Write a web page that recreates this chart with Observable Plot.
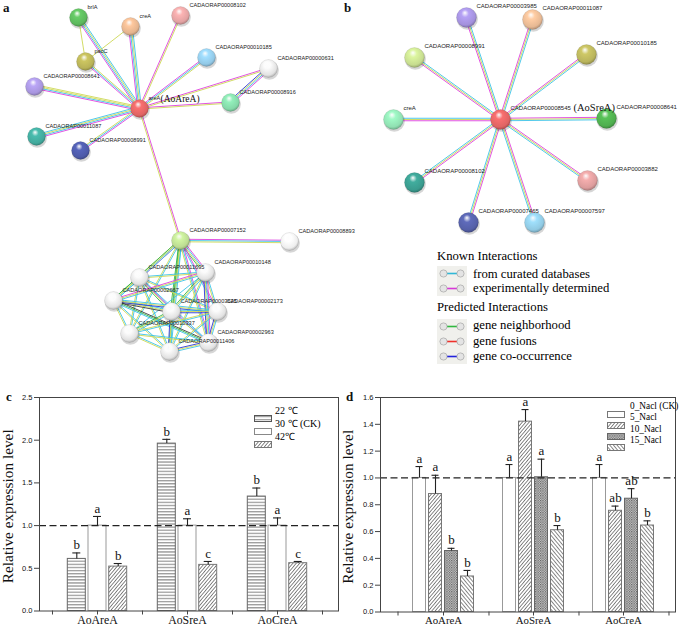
<!DOCTYPE html>
<html><head><meta charset="utf-8">
<script src="https://cdn.jsdelivr.net/npm/d3@7"></script>
<script src="https://cdn.jsdelivr.net/npm/@observablehq/plot@0.6"></script>
<style>
body{margin:0;background:#fff;}
#fig{position:relative;width:685px;height:628px;overflow:hidden;font-family:"Liberation Serif","Times New Roman",serif;color:#111;-webkit-font-smoothing:antialiased;}
.abs{position:absolute;}
.abs svg{overflow:visible;}
.plab{position:absolute;font-weight:bold;font-size:13px;line-height:13px;}
.lg{position:absolute;white-space:nowrap;line-height:13px;color:#000;}
</style></head><body><div id="fig"></div>
<script>
// ---------- Panel a: network around areA ----------
const aNames = ["areA","brlA","creA","CADAORAP00008102","CADAORAP00010185","CADAORAP00000631","CADAORAP00008916","pacC","CADAORAP00008641","CADAORAP00011087","CADAORAP00008991","CADAORAP00007152","CADAORAP00008893","CADAORAP00011695","CADAORAP00010148","CADAORAP00002667","CADAORAP00003625","CADAORAP00002173","CADAORAP00010337","CADAORAP00002963","CADAORAP00011406"];
const aX = [139,78,130,180,206,268,230,85,34,36,80,180,289,139,205,113,171,217,129,208,169];
const aY = [108,17,26,15,57,68,102,61,86,136,150,240,241,277,272,300,311,311,333,342,351];
const aColors = ["#e06464","#5db85d","#e4b48e","#e2a2a2","#92c8e6","#e2e2e2","#84d8a8","#b8b257","#a795dd","#42a99c","#4d5aa8","#bcdc92","#eeeeee","#e2e2e2","#e2e2e2","#e2e2e2","#e2e2e2","#e2e2e2","#e2e2e2","#e2e2e2","#e2e2e2"];
const aEdges = [
  ["areA","brlA","mcyc"],["areA","creA","mcyc"],["areA","CADAORAP00008102","my"],["areA","CADAORAP00010185","mcy"],
  ["areA","CADAORAP00000631","my"],["areA","CADAORAP00008916","my"],["areA","pacC","mcy"],["areA","CADAORAP00008641","mcyy"],
  ["areA","CADAORAP00011087","mcyc"],["areA","CADAORAP00008991","mcy"],["areA","CADAORAP00007152","my"],
  ["pacC","brlA","y"],["pacC","creA","y"],["CADAORAP00000631","CADAORAP00008916","mcyb"],
  ["CADAORAP00007152","CADAORAP00008893","mcy"],
  ["CADAORAP00007152","CADAORAP00011695","mcy"],["CADAORAP00007152","CADAORAP00010148","mcyg"],["CADAORAP00007152","CADAORAP00002667","cyg"],
  ["CADAORAP00007152","CADAORAP00003625","cyg"],["CADAORAP00007152","CADAORAP00002173","mc"],["CADAORAP00007152","CADAORAP00010337","cy"],
  ["CADAORAP00007152","CADAORAP00002963","mcy"],["CADAORAP00007152","CADAORAP00011406","cyg"],
  ["CADAORAP00011695","CADAORAP00010148","cy"],["CADAORAP00011695","CADAORAP00002667","cyg"],["CADAORAP00011695","CADAORAP00003625","cyg"],
  ["CADAORAP00011695","CADAORAP00002173","cy"],["CADAORAP00011695","CADAORAP00010337","cy"],["CADAORAP00011695","CADAORAP00002963","cm"],
  ["CADAORAP00011695","CADAORAP00011406","cy"],["CADAORAP00010148","CADAORAP00002667","cym"],["CADAORAP00010148","CADAORAP00003625","cyg"],
  ["CADAORAP00010148","CADAORAP00002173","cy"],["CADAORAP00010148","CADAORAP00010337","c"],["CADAORAP00010148","CADAORAP00002963","mcyb"],
  ["CADAORAP00010148","CADAORAP00011406","cy"],["CADAORAP00002667","CADAORAP00003625","cyk"],["CADAORAP00002667","CADAORAP00002173","cyb"],
  ["CADAORAP00002667","CADAORAP00010337","cy"],["CADAORAP00002667","CADAORAP00002963","kgc"],["CADAORAP00002667","CADAORAP00011406","cy"],
  ["CADAORAP00003625","CADAORAP00002173","cyb"],["CADAORAP00003625","CADAORAP00010337","cyg"],["CADAORAP00003625","CADAORAP00002963","cy"],
  ["CADAORAP00003625","CADAORAP00011406","cyb"],["CADAORAP00002173","CADAORAP00010337","cy"],["CADAORAP00002173","CADAORAP00002963","cyb"],
  ["CADAORAP00002173","CADAORAP00011406","cy"],["CADAORAP00010337","CADAORAP00002963","cy"],["CADAORAP00010337","CADAORAP00011406","cy"],
  ["CADAORAP00002963","CADAORAP00011406","cyb"]
];
const aHubTag = "(AoAreA)";

// ---------- Panel b: network around CADAORAP00008545 ----------
const bNames = ["CADAORAP00008545","CADAORAP00003985","CADAORAP00011087","CADAORAP00008991","CADAORAP00010185","creA","CADAORAP00008641","CADAORAP00008102","CADAORAP00003882","CADAORAP00007465","CADAORAP00007597"];
const bX = [500,466,532,414,586,393,606,414,587,468,534];
const bY = [119,17,19,57,54,119,118,182,180,222,222];
const bColors = ["#e06464","#a391dc","#e6b893","#c6dc8f","#b9b45c","#90e0b2","#4fae4f","#3a9b8e","#dc9c9c","#5560a8","#90c9e2"];
const bEdges = bNames.slice(1).map(n => ["CADAORAP00008545", n, "myc"]);
const bHubTag = "(AoSreA)";

const edgeColors = {m:"#de3fde", c:"#3cc3e8", y:"#cdd855", g:"#39b54a", b:"#2a35d6", k:"#3d3d3d"};

// ---------- Panel c: temperature ----------
const genes = ["AoAreA","AoSreA","AoCreA"];
const tempLevels = ["22 \u2103","30 \u2103 (CK)","42\u2103"];
const temp22 = [0.61,1.96,1.34], temp22Top = [0.68,2.01,1.44], temp22Sig = ["b","b","b"];
const temp30 = [1.00,1.00,1.00], temp30Top = [1.107,1.08,1.09], temp30Sig = ["a","a","a"];
const temp42 = [0.52,0.54,0.56], temp42Top = [0.556,0.58,0.58], temp42Sig = ["b","c","c"];
const tempTicks = [0,0.5,1.0,1.5,2.0,2.5];

// ---------- Panel d: NaCl ----------
const saltLevels = ["0_Nacl (CK)","5_Nacl","10_Nacl","15_Nacl"];
const salt0 = [1.00,1.00,1.00], salt0Top = [1.085,1.10,1.10], salt0Sig = ["a","a","a"];
const salt5 = [0.88,1.42,0.755], salt5Top = [1.02,1.51,0.79], salt5Sig = ["a","a","ab"];
const salt10 = [0.455,1.005,0.845], salt10Top = [0.475,1.14,0.92], salt10Sig = ["b","a","ab"];
const salt15 = [0.265,0.61,0.645], salt15Top = [0.31,0.645,0.68], salt15Sig = ["b","b","b"];
const saltTicks = [0,0.2,0.4,0.6,0.8,1.0,1.2,1.4,1.6];

const yTitle = "Relative expression level";
const netLegendKnown = [["from curated databases","c"],["experimentally determined","m"]];
const netLegendPred = [["gene neighborhood","g"],["gene fusions","r"],["gene co-occurrence","b"]];
const legendLineColors = {c:"#2fb8d8", m:"#d838d8", g:"#2fb83f", r:"#f0302a", b:"#2222dd"};

// ================= helpers =================
const fig = document.getElementById("fig");
function place(el, left, top){ const d=document.createElement("div"); d.className="abs"; d.style.left=left+"px"; d.style.top=top+"px"; d.appendChild(el); fig.appendChild(d); return d; }

function buildLines(names, xs, ys, edges){
  const out=[];
  for (const [s,t,codes] of edges){
    const i=names.indexOf(s), j=names.indexOf(t);
    const dx=xs[j]-xs[i], dy=ys[j]-ys[i], L=Math.hypot(dx,dy);
    const nx=-dy/L, ny=dx/L;
    codes.split("").forEach((c,k)=>{
      const o=(k-(codes.length-1)/2)*1.25;
      out.push({x1:xs[i]+nx*o, y1:ys[i]+ny*o, x2:xs[j]+nx*o, y2:ys[j]+ny*o, col:edgeColors[c]});
    });
  }
  return out;
}
function addGradients(svg, prefix, colors){
  const defs = d3.select(svg).insert("defs", ":first-child");
  colors.forEach((c,i)=>{
    const g = defs.append("radialGradient").attr("id", prefix+i).attr("cx","45%").attr("cy","40%").attr("r","62%").attr("fx","42%").attr("fy","26%");
    g.append("stop").attr("offset","0%").attr("stop-color","#ffffff").attr("stop-opacity",0.95);
    g.append("stop").attr("offset","30%").attr("stop-color", d3.color(c).brighter(0.3).formatHex());
    g.append("stop").attr("offset","80%").attr("stop-color", c);
    g.append("stop").attr("offset","100%").attr("stop-color", d3.color(c).darker(0.8).formatHex());
  });
}
function network({names, xs, ys, colors, edges, x0, w, h, r, fs, prefix, hubTag, tagDx, tagDy, tagFs}){
  const nodes = names.map((n,i)=>({name:n, x:xs[i], y:ys[i], fill:`url(#${prefix}${i})`}));
  const lines = buildLines(names, xs, ys, edges);
  const svg = Plot.plot({
    width:w, height:h, margin:0,
    x:{domain:[x0, x0+w], axis:null}, y:{domain:[h,0], axis:null},
    color:{type:"identity"},
    style:{overflow:"visible", background:"transparent"},
    marks:[
      Plot.link(lines, {x1:"x1", y1:"y1", x2:"x2", y2:"y2", stroke:"col", strokeWidth:0.9}),
      Plot.dot(nodes, {x:"x", y:"y", r:r+0.6, fill:"#000", fillOpacity:0.16, dx:0.8, dy:1.6}),
      Plot.dot(nodes, {x:"x", y:"y", r:r, fill:"fill", stroke:"#00000022", strokeWidth:0.6}),
      Plot.text(nodes, {x:"x", y:"y", text:"name", dx:r, dy:-r-1, textAnchor:"start", fontSize:fs, fontFamily:"Liberation Sans, Arial, sans-serif", fill:"#222"}),
      Plot.text([nodes[0]], {x:"x", y:"y", text:()=>hubTag, dx:tagDx, dy:tagDy, textAnchor:"start", fontSize:tagFs, fontFamily:"Liberation Serif, serif", fill:"#111"})
    ]
  });
  addGradients(svg, prefix, colors);
  return svg;
}

// ---- a
place(network({names:aNames, xs:aX, ys:aY, colors:aColors, edges:aEdges, x0:0, w:340, h:370, r:9, fs:5.6, prefix:"ga", hubTag:aHubTag, tagDx:21, tagDy:-10, tagFs:9.5}), 0, 0);
// ---- b
place(network({names:bNames, xs:bX, ys:bY, colors:bColors, edges:bEdges, x0:340, w:345, h:240, r:10, fs:6, prefix:"gb", hubTag:bHubTag, tagDx:73, tagDy:-12, tagFs:10.5}), 340, 0);

// ---- network legend (HTML)
function iconBox(left, top, rows){
  const box=document.createElement("div");
  box.className="abs"; box.style.left=left+"px"; box.style.top=top+"px"; box.style.width="30px"; box.style.height=(rows.length*15)+"px"; box.style.background="#f0f0ec";
  let s=`<svg width="30" height="${rows.length*15}">`;
  rows.forEach((r,i)=>{ const cy=7.5+i*15; s+=`<line x1="9" x2="21" y1="${cy}" y2="${cy}" stroke="${legendLineColors[r[1]]}" stroke-width="1.6"/><circle cx="6.5" cy="${cy}" r="3.6" fill="#e4e4e4" stroke="#999" stroke-width="0.6"/><circle cx="23.5" cy="${cy}" r="3.6" fill="#e4e4e4" stroke="#999" stroke-width="0.6"/>`; });
  s+="</svg>"; box.innerHTML=s; fig.appendChild(box);
}
function lgText(txt, left, cy, fs){ const d=document.createElement("div"); d.className="lg"; d.style.left=left+"px"; d.style.top=(cy-7)+"px"; d.style.fontSize=fs+"px"; d.textContent=txt; fig.appendChild(d); }
lgText("Known Interactions", 437, 257, 12.7);
iconBox(437, 266, netLegendKnown);
netLegendKnown.forEach((r,i)=>lgText(r[0], 473, 275+i*14, 12.7));
lgText("Predicted Interactions", 437, 308, 12.7);
iconBox(437, 319, netLegendPred);
netLegendPred.forEach((r,i)=>lgText(r[0], 473, 326+i*15.5, 12.7));

// ---- patterns for bars
function addPatterns(svg){
  const defs = d3.select(svg).insert("defs", ":first-child");
  defs.html(`
   <pattern id="pH" width="4" height="3.1" patternUnits="userSpaceOnUse"><rect width="4" height="3.1" fill="#fff"/><line x1="0" x2="4" y1="1.5" y2="1.5" stroke="#333" stroke-width="0.75"/></pattern>
   <pattern id="pD1" width="2.6" height="4" patternUnits="userSpaceOnUse" patternTransform="rotate(40)"><rect width="2.6" height="4" fill="#fff"/><line x1="1.3" x2="1.3" y1="0" y2="4" stroke="#777" stroke-width="0.9"/></pattern>
   <pattern id="pD2" width="2.8" height="4" patternUnits="userSpaceOnUse" patternTransform="rotate(-40)"><rect width="2.8" height="4" fill="#fff"/><line x1="1.4" x2="1.4" y1="0" y2="4" stroke="#777" stroke-width="0.9"/></pattern>
   <pattern id="pX" width="2.4" height="2.4" patternUnits="userSpaceOnUse"><rect width="2.4" height="2.4" fill="#d0d0d0"/><rect width="1.2" height="1.2" fill="#555"/><rect x="1.2" y="1.2" width="1.2" height="1.2" fill="#777"/></pattern>`);
}

function barPanel({levels, series, tops, sigs, fills, strokes, offsets, barW, yDomain, yTicks, w, h, ml, mr, mt, mb, po, align, catFs, catPad, titleDx}){
  const step = (w-ml-mr)/(genes.length + 2*po);
  const inset = (step - barW)/2;
  const tickLen = 4*(yDomain[1]-yDomain[0])/(h-mt-mb);
  const marks = [];
  levels.forEach((lv,k)=>{
    const rows = genes.map((g,i)=>({gene:g, level:lv, value:series[k][i], top:tops[k][i], sig:sigs[k][i]}));
    marks.push(Plot.barY(rows, {x:"gene", y:"value", dx:offsets[k], insetLeft:inset, insetRight:inset, fill:fills[k], stroke:strokes[k], strokeWidth:1}));
  });
  marks.push(Plot.ruleY([1], {stroke:"#222", strokeWidth:1.2, strokeDasharray:"7,3.5"}));
  levels.forEach((lv,k)=>{
    const rows = genes.map((g,i)=>({gene:g, value:series[k][i], top:tops[k][i], sig:sigs[k][i]}));
    marks.push(Plot.ruleX(rows, {x:"gene", y1:"value", y2:"top", dx:offsets[k], stroke:"#222", strokeWidth:1.1}));
    marks.push(Plot.tickY(rows, {x:"gene", y:"top", dx:offsets[k], insetLeft:step/2-4, insetRight:step/2-4, stroke:"#222", strokeWidth:1.1}));
    marks.push(Plot.text(rows, {x:"gene", y:"top", text:"sig", dx:offsets[k], dy:-8, fontSize:13, fontFamily:"Liberation Serif, serif", fill:"#111"}));
  });
  marks.push(Plot.frame({stroke:"#444", strokeWidth:1}));
  marks.push(Plot.axisY({ticks:yTicks, tickFormat:d3.format(".1f"), tickSize:5, tickPadding:2, fontSize:7.5, fontFamily:"Liberation Sans, Arial, sans-serif", label:null, stroke:"#444"}));
  marks.push(Plot.axisX({tickSize:4, tickPadding:catPad, fontSize:catFs, fontFamily:"Liberation Serif, serif", label:null, stroke:"#444"}));
  marks.push(Plot.ruleX(genes, {x:d=>d, dx:step/2, y1:0, y2:-tickLen, stroke:"#444"}));
  marks.push(Plot.ruleX([genes[0]], {x:d=>d, dx:-step/2, y1:0, y2:-tickLen, stroke:"#444"}));
  marks.push(Plot.text([yTitle], {frameAnchor:"left", textAnchor:"middle", text:d=>d, rotate:-90, dx:titleDx, dy:2, fontSize:15.3, fontFamily:"Liberation Serif, serif", fill:"#111"}));
  const svg = Plot.plot({
    width:w, height:h, marginLeft:ml, marginRight:mr, marginTop:mt, marginBottom:mb,
    x:{type:"band", domain:genes, paddingInner:0, paddingOuter:po, align:align, axis:null},
    y:{domain:yDomain, axis:null},
    style:{overflow:"visible", background:"transparent", color:"#111"},
    marks
  });
  addPatterns(svg);
  return svg;
}

// ---- c
place(barPanel({levels:tempLevels, series:[temp22,temp30,temp42], tops:[temp22Top,temp30Top,temp42Top], sigs:[temp22Sig,temp30Sig,temp42Sig],
  fills:["url(#pH)","#fff","url(#pD1)"], strokes:["#666","#999","#777"], offsets:[-20.7,0,20.7], barW:18,
  yDomain:[0,2.5], yTicks:tempTicks, w:340, h:248, ml:39, mr:2, mt:17, mb:17.5, po:0.161, align:0.45, catFs:11.8, catPad:1, titleDx:-31}), 0, 380);
// ---- d
place(barPanel({levels:saltLevels, series:[salt0,salt5,salt10,salt15], tops:[salt0Top,salt5Top,salt10Top,salt15Top], sigs:[salt0Sig,salt5Sig,salt10Sig,salt15Sig],
  fills:["#fff","url(#pD1)","url(#pX)","url(#pD2)"], strokes:["#999","#777","#666","#777"], offsets:[-24,-8,8,24], barW:14,
  yDomain:[0,1.6], yTicks:saltTicks, w:345, h:248, ml:40, mr:10, mt:17, mb:16.5, po:0.121, align:0.727, catFs:10.8, catPad:0.5, titleDx:-32}), 340, 380);

// ---- bar legends (HTML)
function barLegend(labels, fills, strokes, left, textLeft, cy0, gap, fs){
  labels.forEach((lab,i)=>{
    const cy=cy0+i*gap;
    const s=document.createElement("div"); s.className="abs"; s.style.left=left+"px"; s.style.top=(cy-3.5)+"px";
    s.innerHTML=`<svg width="18" height="7"><rect x="0.5" y="0.5" width="17" height="6" fill="${fills[i]}" stroke="${strokes[i]}" stroke-width="1"/></svg>`;
    fig.appendChild(s);
    lgText(lab, textLeft, cy, fs);
  });
}
barLegend(tempLevels, ["url(#pH)","#fff","url(#pD1)"], ["#555","#888","#777"], 254, 275, 411, 13, 10);
barLegend(saltLevels, ["#fff","url(#pD1)","url(#pX)","url(#pD2)"], ["#777","#777","#666","#777"], 607, 630, 407, 11.3, 9.3);

// ---- panel letters
[["a",3,1],["b",344,1],["c",6,390],["d",346,390]].forEach(([t,l,tp])=>{const d=document.createElement("div"); d.className="plab"; d.style.left=l+"px"; d.style.top=tp+"px"; d.textContent=t; fig.appendChild(d);});
</script></body></html>
